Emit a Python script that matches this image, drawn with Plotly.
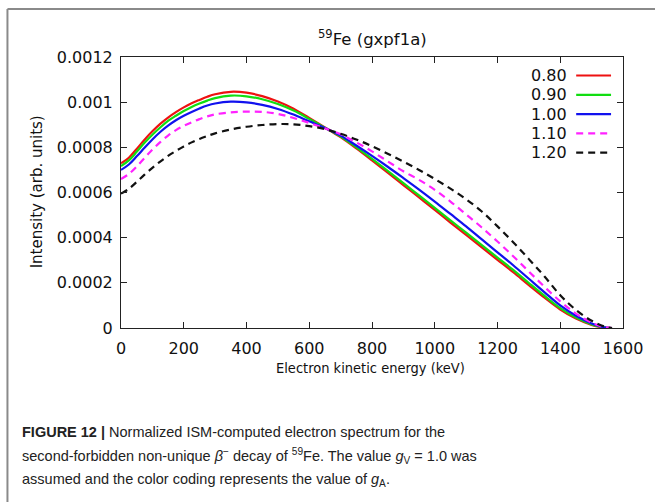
import plotly.graph_objects as go

# Electron kinetic energy grid (keV)
energy = [0, 25, 50, 75, 100, 125, 150, 175, 200, 225, 250, 275, 300, 350, 400, 450, 500,
          550, 600, 650, 700, 750, 800, 850, 900, 950, 1000, 1050, 1100, 1150, 1200, 1250,
          1300, 1350, 1400, 1450, 1500, 1540, 1565]

# Normalized spectra (units of 1e-3, arb.) for each g_A value
ga_080 = [.729, .754, .793, .834, .871, .904, .932, .956, .977, .995, 1.010, 1.024, 1.035,
          1.046, 1.042, 1.027, 1.003, .971, .930, .888, .845, .795, .742, .688, .633, .578,
          .523, .467, .412, .357, .302, .247, .190, .134, .082, .042, .014, .002, 0.0]
ga_090 = [.717, .742, .780, .820, .856, .888, .917, .940, .961, .979, .994, 1.007, 1.018,
          1.029, 1.026, 1.013, .992, .963, .926, .887, .848, .800, .749, .696, .642, .587,
          .532, .477, .422, .367, .312, .257, .199, .142, .088, .046, .016, .003, 0.0]
ga_100 = [.700, .724, .760, .798, .835, .868, .896, .920, .940, .957, .972, .985, .994,
          1.002, .999, .988, .970, .945, .915, .886, .852, .808, .762, .714, .664, .613,
          .560, .505, .450, .392, .335, .278, .218, .158, .100, .054, .020, .003, 0.0]
ga_110 = [.660, .682, .715, .753, .790, .823, .852, .876, .895, .911, .925, .937, .946,
          .955, .958, .957, .948, .930, .908, .884, .858, .822, .782, .738, .694, .656,
          .612, .560, .503, .445, .383, .318, .250, .182, .118, .064, .024, .004, 0.0]
ga_120 = [.595, .616, .647, .679, .709, .737, .762, .784, .804, .822, .837, .850, .862,
          .879, .891, .899, .903, .902, .894, .881, .860, .835, .805, .772, .737, .700,
          .660, .617, .570, .516, .450, .380, .305, .228, .145, .080, .032, .007, 0.0]

series_labels = ["0.80", "0.90", "1.00", "1.10", "1.20"]
series_values = [ga_080, ga_090, ga_100, ga_110, ga_120]
series_colors = ["#ee1111", "#11dd11", "#1111ee", "#ff22ff", "#111111"]
series_dash = ["solid", "solid", "solid", "7px,5px", "7px,5px"]
SCALE = 1e-3

x_ticks = [0, 200, 400, 600, 800, 1000, 1200, 1400, 1600]
x_tick_text = ["0", "200", "400", "600", "800", "1000", "1200", "1400", "1600"]
y_ticks = [0, 0.0002, 0.0004, 0.0006, 0.0008, 0.001, 0.0012]
y_tick_text = ["0", "0.0002", "0.0004", "0.0006", "0.0008", "0.001", "0.0012"]

title_text = "<sup>59</sup>Fe (gxpf1a)"
x_title = "Electron kinetic energy (keV)"
y_title = "Intensity (arb. units)"
caption_lines = [
    "<b>FIGURE 12 |</b> Normalized ISM-computed electron spectrum for the",
    "second-forbidden non-unique <i>β</i><sup>−</sup> decay of <sup>59</sup>Fe. "
    "The value <i>g</i><sub>V</sub> = 1.0 was",
    "assumed and the color coding represents the value of <i>g</i><sub>A</sub>.",
]

# Page geometry (pixels)
FIG_W, FIG_H = 655, 502
PLOT_L, PLOT_R, PLOT_T, PLOT_B = 121, 625, 57, 328
PW, PH = PLOT_R - PLOT_L, PLOT_B - PLOT_T


def px(xp):
    return (xp - PLOT_L) / PW


def py(yp):
    return (PLOT_B - yp) / PH


CHART_FONT = "DejaVu Sans"
NARROW_FONT = "DejaVu Sans Condensed, DejaVu Sans"
TEXT_COLOR = "#111111"

fig = go.Figure()
for lab, vals, col, dash in zip(series_labels, series_values, series_colors, series_dash):
    fig.add_trace(go.Scatter(
        x=energy, y=[v * SCALE for v in vals], mode="lines", name=lab,
        line=dict(color=col, width=2.2, dash=dash, shape="spline", smoothing=1.0),
        showlegend=False,
    ))

annotations = []
shapes = []

# Key: label text followed by a line sample
for i, (lab, col, dash) in enumerate(zip(series_labels, series_colors, series_dash)):
    yrow = py(75.5 + 19.3 * i)
    annotations.append(dict(
        x=px(571), y=yrow, xref="paper", yref="paper", text=lab, showarrow=False,
        xanchor="right", yanchor="middle",
        font=dict(family=CHART_FONT, size=16, color=TEXT_COLOR),
    ))
    shapes.append(dict(
        type="line", xref="paper", yref="paper", x0=px(578), x1=px(613), y0=yrow, y1=yrow,
        line=dict(color=col, width=2.2, dash=dash),
    ))

# Title and axis titles
annotations.append(dict(
    x=0.5, y=py(38), xref="paper", yref="paper", text=title_text, showarrow=False,
    xanchor="center", yanchor="middle",
    font=dict(family=CHART_FONT, size=16.5, color=TEXT_COLOR),
))
annotations.append(dict(
    x=px(371), y=py(368), xref="paper", yref="paper", text=x_title, showarrow=False,
    xanchor="center", yanchor="middle",
    font=dict(family=NARROW_FONT, size=14.5, color=TEXT_COLOR),
))
annotations.append(dict(
    x=px(37), y=py(192), xref="paper", yref="paper", text=y_title, showarrow=False,
    xanchor="center", yanchor="middle", textangle=-90,
    font=dict(family=CHART_FONT, size=15, color=TEXT_COLOR),
))

# Figure caption
for i, line in enumerate(caption_lines):
    annotations.append(dict(
        x=px(20), y=py(432 + 24 * i), xref="paper", yref="paper", text=line,
        showarrow=False, xanchor="left", yanchor="middle", align="left",
        font=dict(family="Liberation Sans", size=14.5, color="#222222"),
    ))

# Gray panel frame (open at right and bottom)
frame_col = "#8a8a8a"
shapes.append(dict(type="line", xref="paper", yref="paper",
                   x0=px(7), x1=px(FIG_W + 5), y0=py(9), y1=py(9),
                   line=dict(color=frame_col, width=2)))
shapes.append(dict(type="line", xref="paper", yref="paper",
                   x0=px(7), x1=px(7), y0=py(9), y1=py(FIG_H + 5),
                   line=dict(color=frame_col, width=2)))

axis_common = dict(
    showgrid=False, zeroline=False, showline=True, linecolor="#222222", linewidth=1,
    mirror="ticks", ticks="inside", ticklen=6, tickcolor="#222222", tickwidth=1,
    tickfont=dict(family=CHART_FONT, size=16, color=TEXT_COLOR),
)

fig.update_layout(
    width=FIG_W, height=FIG_H,
    margin=dict(l=PLOT_L, r=FIG_W - PLOT_R, t=PLOT_T, b=FIG_H - PLOT_B),
    paper_bgcolor="white", plot_bgcolor="white",
    xaxis=dict(range=[0, 1600], tickvals=x_ticks, ticktext=x_tick_text,
               ticklabelstandoff=6, **axis_common),
    yaxis=dict(range=[0, 0.0012], tickvals=y_ticks, ticktext=y_tick_text,
               ticklabelstandoff=4, **axis_common),
    annotations=annotations,
    shapes=shapes,
    showlegend=False,
)

fig.write_html("out.html")
